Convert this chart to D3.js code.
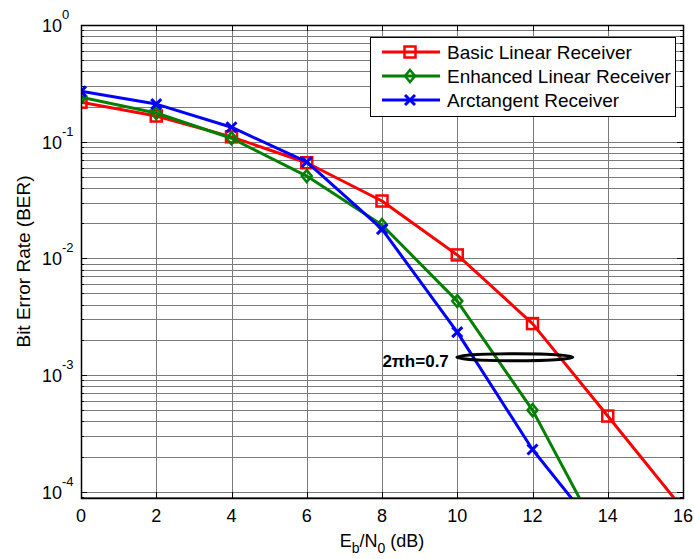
<!DOCTYPE html>
<html>
<head>
<meta charset="utf-8">
<script src="https://cdn.jsdelivr.net/npm/d3@7"></script>
<style>
  body { margin: 0; background: #fff; }
  svg { font-family: Arial, "Liberation Sans", sans-serif; }
</style>
</head>
<body>
<div id="chart"></div>
<script>
// data
const snr = [0, 2, 4, 6, 8, 10, 12, 14, 16];
const basicBer = [0.218, 0.166, 0.11, 0.066, 0.031, 0.0107, 0.00276, 0.000445, 0.000071];
const enhancedBer = [0.24, 0.176, 0.107, 0.0507, 0.0193, 0.0043, 0.00050, 0.000031];
const arctanBer = [0.27, 0.21, 0.133, 0.067, 0.0178, 0.00233, 0.00023, 0.000036];
const seriesNames = ['Basic Linear Receiver', 'Enhanced Linear Receiver', 'Arctangent Receiver'];
const xTicks = [0, 2, 4, 6, 8, 10, 12, 14, 16];
const yDecades = [0, -1, -2, -3, -4];

const W = 694, H = 559;
const margin = { left: 81, top: 25, right: 11, bottom: 61 };
const width = W - margin.left - margin.right;
const height = H - margin.top - margin.bottom;

const svg = d3.select('#chart').append('svg')
    .attr('width', W).attr('height', H);

const x = d3.scaleLinear().domain([0, 16]).range([0, width]);
const y = d3.scaleLog().domain([8.83e-5, 1]).range([height, 0]);

const g = svg.append('g').attr('transform', `translate(${margin.left},${margin.top})`);

g.append('defs').append('clipPath').attr('id', 'plot-clip')
    .append('rect').attr('width', width).attr('height', height);

// grid
const minorVals = [];
for (let e = -5; e < 0; e++) {
    for (let m = 1; m <= 9; m++) {
        const v = m * Math.pow(10, e);
        if (v >= y.domain()[0] && v <= 1) minorVals.push(v);
    }
}
minorVals.push(1);

g.append('g').selectAll('line').data(minorVals).join('line')
    .attr('x1', 0).attr('x2', width)
    .attr('y1', d => Math.round(y(d)) + 0.5).attr('y2', d => Math.round(y(d)) + 0.5)
    .attr('stroke', '#7a7a7a').attr('stroke-width', 1);

g.append('g').selectAll('line').data(xTicks).join('line')
    .attr('x1', d => Math.round(x(d)) + 0.5).attr('x2', d => Math.round(x(d)) + 0.5)
    .attr('y1', 0).attr('y2', height)
    .attr('stroke', '#7a7a7a').attr('stroke-width', 1);

// inner ticks
const tickG = g.append('g').attr('stroke', '#000').attr('stroke-width', 1);
minorVals.forEach(v => {
    const yy = Math.round(y(v)) + 0.5;
    const len = Number.isInteger(Math.log10(v)) ? 6 : 3;
    tickG.append('line').attr('x1', 0).attr('x2', len).attr('y1', yy).attr('y2', yy);
    tickG.append('line').attr('x1', width).attr('x2', width - len).attr('y1', yy).attr('y2', yy);
});
xTicks.forEach(v => {
    const xx = Math.round(x(v)) + 0.5;
    tickG.append('line').attr('x1', xx).attr('x2', xx).attr('y1', height).attr('y2', height - 6);
    tickG.append('line').attr('x1', xx).attr('x2', xx).attr('y1', 0).attr('y2', 6);
});

// curves
const colors = ['#ff0000', '#008000', '#0000ff'];
const allSeries = [basicBer, enhancedBer, arctanBer];
const line = d3.line().x(d => x(d[0])).y(d => y(d[1]));
const plot = g.append('g').attr('clip-path', 'url(#plot-clip)');

function drawMarker(sel, kind, color, cx, cy) {
    if (kind === 0) {
        sel.append('rect').attr('x', cx - 5.5).attr('y', cy - 5.5)
            .attr('width', 11).attr('height', 11)
            .attr('fill', 'none').attr('stroke', color).attr('stroke-width', 2.5);
    } else if (kind === 1) {
        sel.append('path')
            .attr('d', `M${cx},${cy - 6}L${cx + 5},${cy}L${cx},${cy + 6}L${cx - 5},${cy}Z`)
            .attr('fill', 'none').attr('stroke', color).attr('stroke-width', 2.5);
    } else {
        sel.append('path')
            .attr('d', `M${cx - 5},${cy - 5}L${cx + 5},${cy + 5}M${cx - 5},${cy + 5}L${cx + 5},${cy - 5}`)
            .attr('fill', 'none').attr('stroke', color).attr('stroke-width', 3);
    }
}

allSeries.forEach((vals, i) => {
    const pts = vals.map((v, k) => [snr[k], v]);
    plot.append('path').datum(pts)
        .attr('d', line)
        .attr('fill', 'none').attr('stroke', colors[i]).attr('stroke-width', 3)
        .attr('stroke-linejoin', 'round');
    pts.forEach(p => {
        if (p[1] >= y.domain()[0]) drawMarker(plot, i, colors[i], x(p[0]), y(p[1]));
    });
});

// axes box
g.append('rect').attr('x', 0.5).attr('y', 0.5).attr('width', width).attr('height', height)
    .attr('fill', 'none').attr('stroke', '#000').attr('stroke-width', 1.5);

// tick labels
g.append('g').selectAll('text').data(xTicks).join('text')
    .attr('x', d => x(d)).attr('y', height + 24)
    .attr('text-anchor', 'middle').attr('font-size', 18).text(d => d);

const yl = g.append('g');
yDecades.forEach(e => {
    yl.append('text').attr('x', -19).attr('y', y(Math.pow(10, e)) + 7)
        .attr('text-anchor', 'end').attr('font-size', 18).text('10');
    yl.append('text').attr('x', -19).attr('y', y(Math.pow(10, e)) - 6)
        .attr('font-size', 13).text(e === 0 ? '0' : String(e));
});

// axis titles
svg.append('text')
    .attr('transform', `translate(30,${margin.top + height / 2}) rotate(-90)`)
    .attr('text-anchor', 'middle').attr('font-size', 19).text('Bit Error Rate (BER)');

const xt = svg.append('text').attr('x', margin.left + width / 2).attr('y', H - 12)
    .attr('text-anchor', 'middle').attr('font-size', 18);
xt.append('tspan').text('E');
xt.append('tspan').attr('font-size', 14).attr('dy', 6).text('b');
xt.append('tspan').attr('dy', -6).text('/N');
xt.append('tspan').attr('font-size', 14).attr('dy', 6).text('0');
xt.append('tspan').attr('dy', -6).text(' (dB)');

// annotation
g.append('ellipse').attr('cx', x(11.53)).attr('cy', y(0.00142))
    .attr('rx', 58).attr('ry', 3.5)
    .attr('fill', 'none').attr('stroke', '#000').attr('stroke-width', 3);
g.append('text').attr('x', x(11.53) - 66).attr('y', y(0.00142) + 10)
    .attr('text-anchor', 'end').attr('font-size', 17).attr('font-weight', 'bold')
    .text('2πh=0.7');

// legend
const lg = svg.append('g').attr('transform', 'translate(370,37)');
lg.append('rect').attr('x', 0.5).attr('y', 0.5).attr('width', 305).attr('height', 79)
    .attr('fill', '#fff').attr('stroke', '#000').attr('stroke-width', 1);
seriesNames.forEach((name, i) => {
    const yy = 15 + i * 24;
    lg.append('line').attr('x1', 12).attr('x2', 70).attr('y1', yy).attr('y2', yy)
        .attr('stroke', colors[i]).attr('stroke-width', 3);
    drawMarker(lg, i, colors[i], 40, yy);
    lg.append('text').attr('x', 77).attr('y', yy + 6.5).attr('font-size', 19).text(name);
});
</script>
</body>
</html>
